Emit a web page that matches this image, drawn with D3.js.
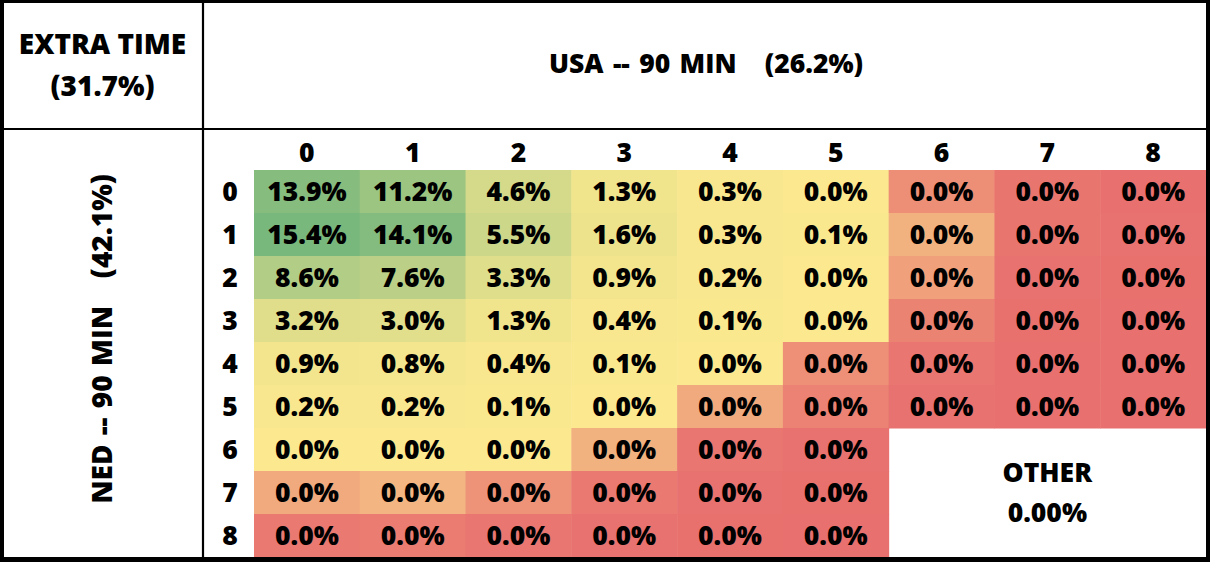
<!DOCTYPE html>
<html>
<head>
<meta charset="utf-8">
<script src="https://cdn.jsdelivr.net/npm/d3@7"></script>
<style>
  html, body { margin: 0; padding: 0; background: #fff; }
  svg { display: block; }
  text { font-family: "Open Sans", "Lato", sans-serif; font-weight: 800; fill: #000; }
</style>
</head>
<body>
<svg id="chart" width="1214" height="566"></svg>
<script>
// ---------- data ----------
const usaGoals = [0, 1, 2, 3, 4, 5, 6, 7, 8];   // columns
const nedGoals = [0, 1, 2, 3, 4, 5, 6, 7, 8];   // rows
// score probabilities in % (rows = NED goals, cols = USA goals);
// tiny values are estimated from the cell shading (they print as 0.0%)
const ned0 = [13.9, 11.2, 4.6, 1.3, 0.3, 0.03,   0.0026, 0.0004, 0.00001];
const ned1 = [15.4, 14.1, 5.5, 1.6, 0.3, 0.1,    0.0056, 0.0004, 0.0002];
const ned2 = [8.6,  7.6,  3.3, 0.9, 0.2, 0.03,   0.0041, 0.0002, 0.0001];
const ned3 = [3.2,  3.0,  1.3, 0.4, 0.1, 0.015,  0.0016, 0.0001, 0.00001];
const ned4 = [0.9,  0.8,  0.4, 0.1, 0.04, 0.0027, 0.0005, 0.00001, 0.00001];
const ned5 = [0.2,  0.2,  0.1, 0.04, 0.0049, 0.0015, 0.0002, 0.00001, 0.00001];
const ned6 = [0.04, 0.03, 0.0145, 0.0056, 0.0005, 0.0002, null, null, null];
const ned7 = [0.0048, 0.0058, 0.0030, 0.0008, 0.0002, 0.0001, null, null, null];
const ned8 = [0.0008, 0.0010, 0.0005, 0.0002, 0.0001, 0.00001, null, null, null];
const scoreRows = [ned0, ned1, ned2, ned3, ned4, ned5, ned6, ned7, ned8];

const cornerLines = ["EXTRA TIME", "(31.7%)"];
const usaTitle = "USA -- 90 MIN   (26.2%)";
const nedTitle = "NED -- 90 MIN   (42.1%)";
const otherLines = ["OTHER", "0.00%"];
const otherRows = [6, 7, 8];
const otherCols = [6, 7, 8];

// ---------- drawing ----------
const svg = d3.select("#chart");
const W = 1214, H = 566;
svg.append("rect").attr("width", W).attr("height", H).attr("fill", "#fff");

const x = d3.scaleBand().domain(usaGoals).range([254, 1206]).padding(0);
const y = d3.scaleBand().domain(nedGoals).range([170, 557]).padding(0);

const cells = [];
scoreRows.forEach((row, r) => row.forEach((v, c) => {
  if (v !== null) cells.push({ ned: nedGoals[r], usa: usaGoals[c], v });
}));
const vals = cells.map(d => d.v);
const color = d3.scaleLinear()
  .domain([d3.min(vals), d3.median(vals), d3.max(vals)])
  .range(["#E8706E", "#FBE88F", "#79B87D"])
  .interpolate(d3.interpolateRgb);

const fmt = d3.format(".1%");
const FS = 26.5;
const CAP = 0.355;

const g = svg.append("g");
g.selectAll("rect.cell").data(cells).join("rect")
  .attr("class", "cell")
  .attr("x", d => x(d.usa))
  .attr("y", d => y(d.ned))
  .attr("width", x.bandwidth() + 0.5)
  .attr("height", y.bandwidth() + 0.5)
  .attr("fill", d => color(d.v));

g.selectAll("text.val").data(cells).join("text")
  .attr("class", "val")
  .attr("x", d => x(d.usa) + x.bandwidth() / 2)
  .attr("y", d => y(d.ned) + y.bandwidth() / 2 + FS * CAP)
  .attr("text-anchor", "middle")
  .style("font-size", FS + "px")
  .text(d => fmt(d.v / 100));

// column axis (USA goals)
g.selectAll("text.colh").data(usaGoals).join("text")
  .attr("class", "colh")
  .attr("x", d => x(d) + x.bandwidth() / 2)
  .attr("y", 152.5 + FS * CAP)
  .attr("text-anchor", "middle")
  .style("font-size", FS + "px")
  .text(d => d);

// row axis (NED goals)
g.selectAll("text.rowh").data(nedGoals).join("text")
  .attr("class", "rowh")
  .attr("x", 230)
  .attr("y", d => y(d) + y.bandwidth() / 2 + FS * CAP)
  .attr("text-anchor", "middle")
  .style("font-size", FS + "px")
  .text(d => d);

// OTHER block
const ox = (x(otherCols[0]) + x(otherCols[2]) + x.bandwidth()) / 2;
const oy = (y(otherRows[0]) + y(otherRows[2]) + y.bandwidth()) / 2;
g.selectAll("text.other").data(otherLines).join("text")
  .attr("class", "other")
  .attr("x", ox)
  .attr("y", (d, i) => oy - 20 + i * 40 + FS * CAP)
  .attr("text-anchor", "middle")
  .style("font-size", FS + "px")
  .text(d => d);

// titles
const FS2 = 28;
svg.selectAll("text.corner").data(cornerLines).join("text")
  .attr("class", "corner")
  .attr("x", 102.5)
  .attr("y", (d, i) => 43.7 + i * 42.3 + FS2 * CAP)
  .attr("text-anchor", "middle")
  .style("font-size", FS2 + "px")
  .text(d => d);

svg.append("text")
  .attr("x", 706)
  .attr("y", 64 + FS * CAP)
  .attr("text-anchor", "middle")
  .style("font-size", FS + "px")
  .style("white-space", "pre")
  .style("word-spacing", "2.5px")
  .text(usaTitle);

svg.append("text")
  .attr("transform", "translate(" + (102.5 + FS2 * CAP) + ",339) rotate(-90)")
  .attr("text-anchor", "middle")
  .style("font-size", FS2 + "px")
  .style("white-space", "pre")
  .style("word-spacing", "2px")
  .text(nedTitle);

// frame and dividers
const lines = [
  { x1: 0, y1: 1.5, x2: 1210, y2: 1.5, w: 3 },     // top
  { x1: 2, y1: 0, x2: 2, y2: 562, w: 4 },           // left
  { x1: 1208, y1: 0, x2: 1208, y2: 562, w: 4 },     // right
  { x1: 0, y1: 559.5, x2: 1210, y2: 559.5, w: 5 },  // bottom
  { x1: 203, y1: 0, x2: 203, y2: 558, w: 2.2 },     // vertical divider
  { x1: 0, y1: 129, x2: 1208, y2: 129, w: 2.2 }     // horizontal divider
];
svg.selectAll("line.frame").data(lines).join("line")
  .attr("class", "frame")
  .attr("x1", d => d.x1).attr("y1", d => d.y1)
  .attr("x2", d => d.x2).attr("y2", d => d.y2)
  .attr("stroke", "#000").attr("stroke-width", d => d.w);
</script>
</body>
</html>
